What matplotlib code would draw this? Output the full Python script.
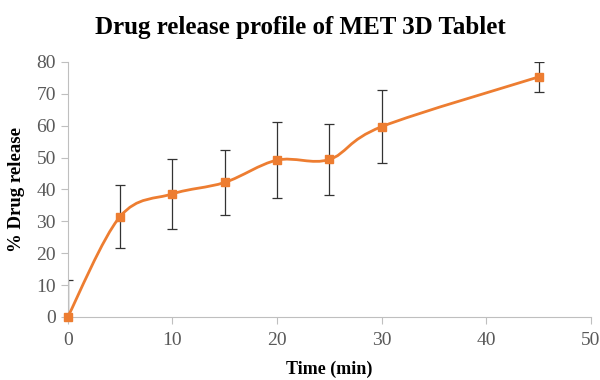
import numpy as np
import matplotlib.pyplot as plt
from matplotlib.path import Path
from matplotlib.patches import PathPatch

# 数据
time = [0, 5, 10, 15, 20, 25, 30, 45]
release = [0, 31.5, 38.6, 42.2, 49.2, 49.4, 59.7, 75.3]
sd = [11.6, 10.0, 11.0, 10.3, 12.0, 11.0, 11.5, 4.8]

orange = '#ED7D31'
grey = '#595959'
plt.rcParams['font.family'] = ['Liberation Serif', 'DejaVu Serif']

fig = plt.figure(figsize=(6, 3.8), dpi=100)
ax = fig.add_axes([0.113, 0.166, 0.872, 0.671])


# Excel 风格平滑曲线 (Bezier)
def smooth_path(xs, ys):
    p = np.column_stack([xs, ys]).astype(float)
    n = len(p)
    verts = [p[0]]
    codes = [Path.MOVETO]
    for i in range(n - 1):
        p0 = p[i - 1] if i > 0 else p[i]
        p3 = p[i + 2] if i + 2 < n else p[i + 1]
        c1 = p[i] + (p[i + 1] - p0) / 6.0
        c2 = p[i + 1] - (p3 - p[i]) / 6.0
        verts += [c1, c2, p[i + 1]]
        codes += [Path.CURVE4] * 3
    return Path(verts, codes)


ax.add_patch(PathPatch(smooth_path(time, release), fill=False,
                       edgecolor=orange, lw=2, zorder=3))
ax.errorbar(time, release, yerr=sd, fmt='none', ecolor='#333333',
            elinewidth=0.9, capsize=3.5, capthick=0.9, zorder=2)
ax.plot(time, release, 's', color=orange, markersize=6, zorder=4, clip_on=False)

ax.set_xlim(0, 50)
ax.set_ylim(0, 80)
ax.set_xticks(range(0, 51, 10))
ax.set_yticks(range(0, 81, 10))
for s in ['top', 'right']:
    ax.spines[s].set_visible(False)
for s in ['left', 'bottom']:
    ax.spines[s].set_color('#BFBFBF')
ax.tick_params(colors='#BFBFBF', labelcolor=grey, labelsize=14, length=5)
ax.tick_params(axis='x', pad=6)

ax.set_xlabel('Time (min)', fontsize=13, fontweight='bold', labelpad=8)
ax.set_ylabel('% Drug release', fontsize=13.5, fontweight='bold', labelpad=8)
fig.text(0.5, 0.928, 'Drug release profile of MET 3D Tablet', ha='center',
         va='center', fontsize=18, fontweight='bold')

plt.savefig('out.png', dpi=100)
